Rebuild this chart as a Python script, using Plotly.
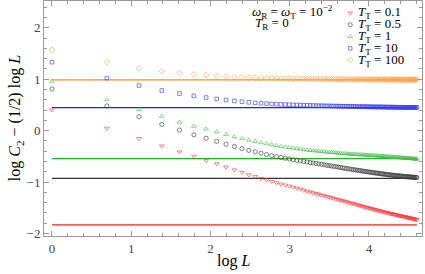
import numpy as np
import plotly.graph_objects as go

# ---------------- data ----------------
L = list(range(1, 101))

t_labels = ["0.1", "0.5", "1", "10", "100"]

vals_T01 = [0.40, 0.045, -0.155, -0.30, -0.415, -0.50, -0.585, -0.645, -0.71, -0.765,
            -0.815, -0.86, -0.895, -0.93, -0.96, -0.99, -1.015, -1.04, -1.06, -1.08,
            -1.10, -1.12, -1.14, -1.16, -1.18, -1.195, -1.21, -1.225, -1.24, -1.255,
            -1.268, -1.281, -1.294, -1.306, -1.318, -1.33, -1.342, -1.353, -1.364, -1.375,
            -1.385, -1.395, -1.405, -1.415, -1.425, -1.434, -1.443, -1.452, -1.461, -1.47,
            -1.478, -1.486, -1.494, -1.502, -1.51, -1.517, -1.524, -1.531, -1.538, -1.545,
            -1.552, -1.558, -1.564, -1.57, -1.576, -1.582, -1.588, -1.594, -1.6, -1.605,
            -1.61, -1.615, -1.62, -1.625, -1.63, -1.635, -1.64, -1.645, -1.65, -1.654,
            -1.658, -1.662, -1.666, -1.67, -1.674, -1.678, -1.682, -1.686, -1.69, -1.694,
            -1.698, -1.702, -1.706, -1.71, -1.714, -1.718, -1.722, -1.726, -1.73, -1.734]

vals_T05 = [0.81, 0.48, 0.27, 0.12, 0.01, -0.08, -0.15, -0.21, -0.265, -0.31,
            -0.35, -0.385, -0.415, -0.44, -0.465, -0.487, -0.506, -0.523, -0.538, -0.552,
            -0.565, -0.577, -0.589, -0.60, -0.61, -0.62, -0.63, -0.639, -0.648, -0.657,
            -0.665, -0.673, -0.681, -0.689, -0.696, -0.703, -0.71, -0.717, -0.724, -0.73,
            -0.736, -0.742, -0.748, -0.754, -0.76, -0.765, -0.77, -0.775, -0.78, -0.785,
            -0.79, -0.795, -0.799, -0.803, -0.807, -0.811, -0.815, -0.819, -0.823, -0.827,
            -0.83, -0.834, -0.837, -0.84, -0.844, -0.847, -0.85, -0.853, -0.856, -0.859,
            -0.861, -0.864, -0.866, -0.869, -0.871, -0.874, -0.876, -0.878, -0.88, -0.882,
            -0.884, -0.886, -0.888, -0.89, -0.892, -0.894, -0.895, -0.897, -0.899, -0.90,
            -0.902, -0.903, -0.905, -0.906, -0.907, -0.909, -0.91, -0.911, -0.912, -0.913]

vals_T1 = [0.96, 0.60, 0.41, 0.28, 0.165, 0.085, 0.03, -0.025, -0.075, -0.12,
           -0.155, -0.185, -0.21, -0.235, -0.255, -0.275, -0.29, -0.305, -0.32, -0.33,
           -0.34, -0.35, -0.36, -0.37, -0.38, -0.385, -0.39, -0.395, -0.40, -0.405,
           -0.41, -0.415, -0.42, -0.425, -0.43, -0.433, -0.436, -0.44, -0.443, -0.446,
           -0.449, -0.452, -0.455, -0.458, -0.46, -0.462, -0.464, -0.466, -0.468, -0.47,
           -0.472, -0.474, -0.476, -0.478, -0.48, -0.482, -0.484, -0.486, -0.488, -0.49,
           -0.492, -0.494, -0.496, -0.498, -0.50, -0.502, -0.504, -0.505, -0.507, -0.509,
           -0.51, -0.512, -0.514, -0.515, -0.517, -0.518, -0.52, -0.521, -0.523, -0.524,
           -0.526, -0.527, -0.529, -0.53, -0.532, -0.533, -0.535, -0.536, -0.538, -0.539,
           -0.541, -0.542, -0.544, -0.545, -0.547, -0.548, -0.55, -0.551, -0.553, -0.555]

vals_T10 = [1.33, 1.02, 0.877, 0.78, 0.72, 0.675, 0.643, 0.615, 0.595, 0.577,
            0.562, 0.549, 0.539, 0.531, 0.524, 0.518, 0.514, 0.510, 0.506, 0.503,
            0.500, 0.497, 0.495, 0.493, 0.491, 0.489, 0.487, 0.486, 0.484, 0.483,
            0.481, 0.480, 0.479, 0.478, 0.477, 0.476, 0.475, 0.474, 0.473, 0.472,
            0.471, 0.470, 0.470, 0.469, 0.468, 0.467, 0.467, 0.466, 0.466, 0.465,
            0.464, 0.464, 0.463, 0.463, 0.462, 0.462, 0.461, 0.461, 0.460, 0.460,
            0.459, 0.459, 0.459, 0.458, 0.458, 0.457, 0.457, 0.457, 0.456, 0.456,
            0.456, 0.455, 0.455, 0.455, 0.454, 0.454, 0.454, 0.454, 0.453, 0.453,
            0.453, 0.453, 0.452, 0.452, 0.452, 0.452, 0.451, 0.451, 0.451, 0.451,
            0.451, 0.450, 0.450, 0.450, 0.450, 0.450, 0.449, 0.449, 0.449, 0.449]

vals_T100 = [1.57, 1.33, 1.21, 1.155, 1.12, 1.095, 1.08, 1.066, 1.053, 1.043,
             1.036, 1.030, 1.026, 1.022, 1.019, 1.017, 1.015, 1.013, 1.012, 1.010,
             1.009, 1.008, 1.007, 1.006, 1.005, 1.004, 1.004, 1.003, 1.002, 1.002,
             1.001, 1.001, 1.000, 1.000, 0.999, 0.999, 0.999, 0.998, 0.998, 0.998,
             0.997, 0.997, 0.997, 0.996, 0.996, 0.996, 0.996, 0.995, 0.995, 0.995,
             0.995, 0.995, 0.994, 0.994, 0.994, 0.994, 0.994, 0.993, 0.993, 0.993,
             0.993, 0.993, 0.993, 0.993, 0.992, 0.992, 0.992, 0.992, 0.992, 0.992,
             0.992, 0.992, 0.991, 0.991, 0.991, 0.991, 0.991, 0.991, 0.991, 0.991,
             0.991, 0.990, 0.990, 0.990, 0.990, 0.990, 0.990, 0.990, 0.990, 0.990,
             0.990, 0.990, 0.990, 0.990, 0.990, 0.989, 0.989, 0.989, 0.989, 0.989]

# asymptotic (horizontal line) levels per series
asymptotes = [-1.835, -0.93, -0.545, 0.445, 0.985]

series = [vals_T01, vals_T05, vals_T1, vals_T10, vals_T100]

x_ticks = [0, 1, 2, 3, 4]
y_ticks = [-2, -1, 0, 1, 2]

# ---------------- styles ----------------
line_colors = ["rgb(255,30,30)", "rgb(50,50,50)", "rgb(40,175,40)", "rgb(30,30,255)", "rgb(255,140,30)"]
mark_colors = ["rgba(255,60,60,0.85)", "rgba(60,60,60,0.85)", "rgba(70,190,70,0.85)",
               "rgba(60,60,255,0.85)", "rgba(255,160,70,0.85)"]
symbols = ["triangle-down-open", "circle-open", "triangle-up-open", "square-open", "diamond-open"]
msizes = [4.2, 4.2, 4.2, 3.6, 4.4]

FONT = "Liberation Serif, Times New Roman, DejaVu Serif, serif"

x = np.log(np.array(L, dtype=float))

fig = go.Figure()

# horizontal asymptote lines
for a, c in zip(asymptotes, line_colors):
    fig.add_trace(go.Scatter(x=[x.min(), x.max()], y=[a, a], mode="lines",
                             line=dict(color=c, width=1.3), showlegend=False,
                             hoverinfo="skip"))

# data points
for vals, c, s, ms in zip(series, mark_colors, symbols, msizes):
    fig.add_trace(go.Scatter(x=x, y=vals, mode="markers",
                             marker=dict(symbol=s, size=ms, color=c,
                                         line=dict(width=0.75, color=c)),
                             showlegend=False))

# custom legend (compact spacing) on an overlay axis
leg_x = 0.81
leg_y0 = 0.949
leg_step = 0.0502
for i, (lab, c, s, ms) in enumerate(zip(t_labels, mark_colors, symbols, msizes)):
    yy = leg_y0 - i * leg_step
    fig.add_trace(go.Scatter(x=[leg_x], y=[yy], xaxis="x2", yaxis="y2", mode="markers",
                             marker=dict(symbol=s, size=ms, color=c,
                                         line=dict(width=0.75, color=c)),
                             showlegend=False, hoverinfo="skip"))
    fig.add_annotation(x=leg_x + 0.018, y=yy, xref="paper", yref="paper",
                       xanchor="left", yanchor="middle", showarrow=False,
                       borderpad=0,
                       text=f"<i>T</i><sub>T</sub> = {lab}",
                       font=dict(family=FONT, size=13, color="black"))

# parameter annotations
fig.add_annotation(x=0.548, y=0.955, xref="paper", yref="paper", xanchor="left",
                   yanchor="middle", showarrow=False, borderpad=0,
                   text="<i>ω</i><sub>R</sub> = <i>ω</i><sub>T</sub> = 10<sup>−2</sup>",
                   font=dict(family=FONT, size=13, color="black"))
fig.add_annotation(x=0.556, y=0.905, xref="paper", yref="paper", xanchor="left",
                   yanchor="middle", showarrow=False, borderpad=0,
                   text="<i>T</i><sub>R</sub> = 0",
                   font=dict(family=FONT, size=13, color="black"))

# axis titles
fig.add_annotation(x=0.5, y=-0.108, xref="paper", yref="paper", xanchor="center",
                   yanchor="middle", showarrow=False, text="log <i>L</i>",
                   font=dict(family=FONT, size=16, color="black"))
fig.add_annotation(x=-0.075, y=0.5, xref="paper", yref="paper", xanchor="center",
                   yanchor="middle", showarrow=False, textangle=-90,
                   text="log <i>C</i><sub>2</sub> − (1/2) log <i>L</i>",
                   font=dict(family=FONT, size=16, color="black"))

axis_common = dict(showgrid=False, zeroline=False, showline=True, linecolor="#9a9a9a",
                   linewidth=1, mirror="allticks", ticks="inside", ticklen=5,
                   tickcolor="#9a9a9a", tickwidth=1, automargin=False,
                   tickfont=dict(family=FONT, size=13, color="#444"))

fig.update_layout(
    width=425, height=274,
    margin=dict(l=44, r=3, t=1, b=38),
    paper_bgcolor="white", plot_bgcolor="white",
    showlegend=False,
    font=dict(family=FONT),
    xaxis=dict(range=[-0.1, 4.67], tickvals=x_ticks,
               minor=dict(ticks="inside", dtick=0.2, ticklen=3, tickcolor="#9a9a9a"),
               **axis_common),
    yaxis=dict(range=[-2.05, 2.52], tickvals=y_ticks,
               minor=dict(ticks="inside", dtick=0.2, ticklen=3, tickcolor="#9a9a9a"),
               **axis_common),
    xaxis2=dict(range=[0, 1], overlaying="x", visible=False),
    yaxis2=dict(range=[0, 1], overlaying="y", visible=False),
)

fig.write_html("out.html",
               config={"displayModeBar": False},
               post_script="document.body.style.margin='0';document.body.style.padding='0';")
